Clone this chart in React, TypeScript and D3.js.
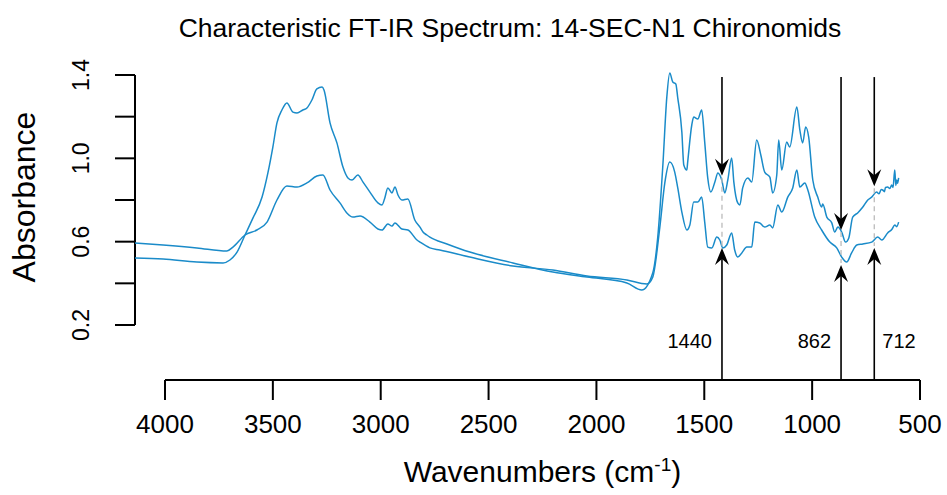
import React from "react";
import * as d3 from "d3";

const titleText = "Characteristic FT-IR Spectrum: 14-SEC-N1 Chironomids";
const xTicks = [4000, 3500, 3000, 2500, 2000, 1500, 1000, 500];
const yTicks = [0.2, 0.4, 0.6, 0.8, 1.0, 1.2, 1.4];
const yTickLabels = [0.2, 0.6, 1.0, 1.4];

// Spectrum with the larger peaks
const highWn = [4139, 4009, 3852, 3731, 3699, 3666, 3629, 3592, 3550, 3523, 3500, 3481, 3458, 3435, 3407, 3388, 3361, 3342, 3319, 3296, 3272, 3263, 3235, 3203, 3175, 3152, 3133, 3106, 3082, 3050, 3013, 2994, 2981, 2967, 2948, 2934, 2920, 2902, 2874, 2842, 2818, 2804, 2786, 2772, 2693, 2587, 2387, 2202, 2044, 1859, 1790, 1739, 1716, 1692, 1674, 1660, 1646, 1632, 1623, 1604, 1595, 1581, 1577, 1558, 1549, 1530, 1512, 1498, 1484, 1470, 1451, 1437, 1419, 1405, 1391, 1373, 1363, 1345, 1335, 1322, 1298, 1280, 1257, 1238, 1220, 1196, 1183, 1164, 1155, 1141, 1118, 1104, 1071, 1057, 1044, 1030, 1016, 997, 974, 956, 951, 932, 909, 895, 881, 863, 845, 830, 812, 789, 765, 742, 724, 701, 690, 680, 673, 665, 660, 650, 640, 631, 625, 617, 612, 608, 604, 599];
const highAbs = [0.522, 0.517, 0.502, 0.498, 0.512, 0.55, 0.632, 0.714, 0.814, 0.93, 1.054, 1.17, 1.232, 1.266, 1.222, 1.218, 1.232, 1.242, 1.28, 1.333, 1.342, 1.328, 1.17, 1.074, 0.958, 0.906, 0.896, 0.92, 0.886, 0.838, 0.786, 0.776, 0.81, 0.858, 0.834, 0.862, 0.824, 0.8, 0.805, 0.704, 0.67, 0.646, 0.632, 0.622, 0.589, 0.55, 0.498, 0.454, 0.43, 0.402, 0.368, 0.45, 0.618, 0.968, 1.29, 1.41, 1.366, 1.357, 1.29, 1.126, 0.968, 0.944, 0.982, 1.16, 1.198, 1.189, 1.232, 1.078, 0.906, 0.838, 0.886, 0.93, 0.896, 0.834, 0.896, 1.002, 0.886, 0.786, 0.776, 0.858, 0.906, 0.886, 1.088, 1.016, 0.934, 0.91, 0.834, 0.92, 1.088, 0.944, 1.078, 1.054, 1.246, 1.136, 1.074, 1.15, 1.102, 0.896, 0.814, 0.766, 0.781, 0.718, 0.69, 0.646, 0.67, 0.646, 0.598, 0.618, 0.718, 0.738, 0.766, 0.8, 0.814, 0.838, 0.83, 0.85, 0.848, 0.84, 0.86, 0.862, 0.855, 0.872, 0.86, 0.944, 0.87, 0.896, 0.88, 0.906];

// Spectrum with the smaller peaks
const lowWn = [4139, 4009, 3852, 3713, 3685, 3629, 3574, 3527, 3481, 3435, 3388, 3342, 3296, 3268, 3235, 3189, 3157, 3129, 3096, 3050, 3013, 2994, 2967, 2948, 2934, 2902, 2874, 2832, 2818, 2772, 2726, 2587, 2387, 2202, 2044, 1859, 1766, 1739, 1706, 1683, 1660, 1637, 1623, 1604, 1581, 1567, 1549, 1530, 1512, 1498, 1484, 1465, 1442, 1428, 1414, 1396, 1373, 1359, 1345, 1326, 1303, 1280, 1266, 1243, 1220, 1196, 1183, 1159, 1141, 1113, 1090, 1071, 1057, 1034, 1020, 988, 956, 918, 886, 863, 840, 817, 793, 765, 724, 696, 677, 650, 630, 617, 608, 599];
const lowAbs = [0.594, 0.584, 0.57, 0.555, 0.574, 0.632, 0.656, 0.694, 0.8, 0.867, 0.862, 0.882, 0.915, 0.92, 0.848, 0.786, 0.738, 0.718, 0.723, 0.694, 0.661, 0.656, 0.685, 0.675, 0.69, 0.661, 0.656, 0.608, 0.598, 0.57, 0.56, 0.526, 0.483, 0.464, 0.435, 0.416, 0.397, 0.43, 0.67, 0.882, 0.982, 0.934, 0.858, 0.742, 0.656, 0.68, 0.79, 0.79, 0.814, 0.694, 0.574, 0.57, 0.622, 0.608, 0.57, 0.584, 0.642, 0.56, 0.526, 0.546, 0.574, 0.574, 0.694, 0.69, 0.67, 0.68, 0.666, 0.776, 0.742, 0.814, 0.858, 0.944, 0.862, 0.882, 0.848, 0.718, 0.656, 0.598, 0.57, 0.526, 0.502, 0.546, 0.584, 0.589, 0.598, 0.622, 0.608, 0.642, 0.66, 0.68, 0.672, 0.694];

// Marked bands: label, band position, arrow tips (upper, lower curves)
const bandLabels = ["1440", "862", "712"];
const bandPos = [1418, 866, 712];
const bandTopTip = [0.917, 0.656, 0.866];
const bandBottomTip = [0.57, 0.488, 0.57];
const bandLabelSide = ["left", "left", "right"];

const W = 947;
const H = 495;
const color = "#1a8bc9";
const font = "'Liberation Sans', Arial, Helvetica, sans-serif";

export default function App() {
  const x = d3.scaleLinear().domain([4000, 500]).range([165, 920]);
  const y = d3.scaleLinear().domain([0.2, 1.4]).range([325, 75]);
  const axisY = 380;
  const arrowTop = y(1.39);

  const gen = d3
    .line<[number, number]>()
    .x((d) => x(d[0]))
    .y((d) => y(d[1]))
    .curve(d3.curveMonotoneX);

  const highPts: [number, number][] = highWn.map((w, i) => [w, highAbs[i]]);
  const lowPts: [number, number][] = lowWn.map((w, i) => [w, lowAbs[i]]);

  const head = (tx: number, ty: number, dir: number) => {
    const L = 17;
    const hw = 7;
    const n = 11;
    return `M${tx},${ty} L${tx - hw},${ty - dir * L} L${tx},${ty - dir * n} L${tx + hw},${ty - dir * L} Z`;
  };

  return (
    <svg
      width={W}
      height={H}
      style={{ position: "absolute", left: 0, top: 0, background: "#fff" }}
      fontFamily={font}
    >
      <rect x={0} y={0} width={W} height={H} fill="#fff" />
      <text x={510} y={37} textAnchor="middle" fontSize={26.5} fill="#000">
        {titleText}
      </text>

      {/* y axis */}
      <line x1={135} x2={135} y1={y(1.4)} y2={y(0.2)} stroke="#000" strokeWidth={2} />
      {yTicks.map((t) => (
        <line key={t} x1={115} x2={135} y1={y(t)} y2={y(t)} stroke="#000" strokeWidth={2} />
      ))}
      {yTickLabels.map((t) => (
        <text
          key={t}
          transform={`translate(89,${y(t)}) rotate(-90)`}
          textAnchor="middle"
          fontSize={23}
        >
          {t.toFixed(1)}
        </text>
      ))}
      <text transform={`translate(35,197) rotate(-90)`} textAnchor="middle" fontSize={32}>
        Absorbance
      </text>

      {/* x axis */}
      <line x1={x(4000)} x2={x(500)} y1={axisY} y2={axisY} stroke="#000" strokeWidth={2} />
      {xTicks.map((t) => (
        <line key={t} x1={x(t)} x2={x(t)} y1={axisY} y2={axisY + 20} stroke="#000" strokeWidth={2} />
      ))}
      {xTicks.map((t) => (
        <text key={t} x={x(t)} y={433} textAnchor="middle" fontSize={26}>
          {t}
        </text>
      ))}
      <text x={542.5} y={482} textAnchor="middle" fontSize={30}>
        Wavenumbers (cm
        <tspan fontSize={19} dy={-11}>-1</tspan>
        <tspan dy={11}>)</tspan>
      </text>

      {/* spectra */}
      <path d={gen(lowPts) || ""} fill="none" stroke={color} strokeWidth={1.5} />
      <path d={gen(highPts) || ""} fill="none" stroke={color} strokeWidth={1.5} />

      {/* band markers */}
      {bandLabels.map((lab, i) => {
        const bx = x(bandPos[i]);
        const tTop = y(bandTopTip[i]);
        const tBot = y(bandBottomTip[i]);
        return (
          <g key={lab}>
            <line x1={bx} x2={bx} y1={tTop + 2} y2={tBot - 2} stroke="#bbb" strokeWidth={1.3} strokeDasharray="5,4" />
            <line x1={bx} x2={bx} y1={arrowTop} y2={tTop - 8} stroke="#000" strokeWidth={1.6} />
            <path d={head(bx, tTop, 1)} fill="#000" />
            <line x1={bx} x2={bx} y1={axisY} y2={tBot + 8} stroke="#000" strokeWidth={1.6} />
            <path d={head(bx, tBot, -1)} fill="#000" />
            <text
              x={bandLabelSide[i] === "left" ? bx - 10 : bx + 8}
              y={348}
              textAnchor={bandLabelSide[i] === "left" ? "end" : "start"}
              fontSize={20}
            >
              {lab}
            </text>
          </g>
        );
      })}
    </svg>
  );
}
